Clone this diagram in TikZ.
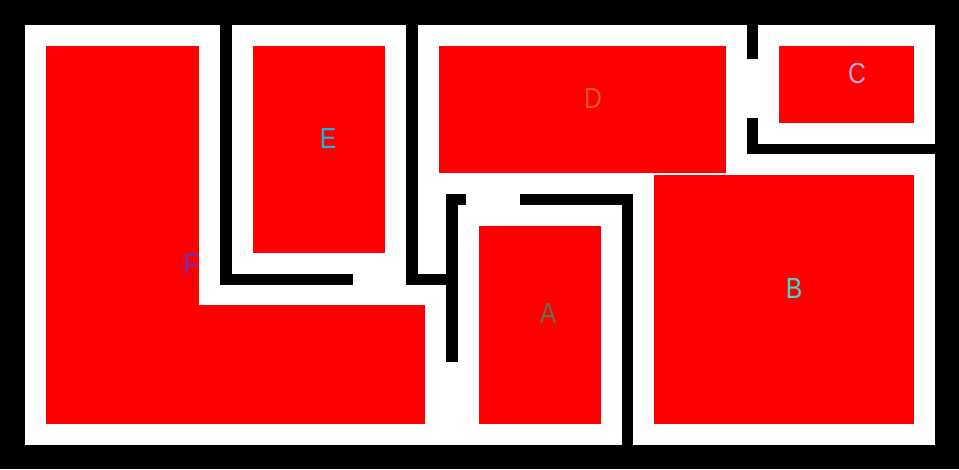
\documentclass[tikz,border=0pt]{standalone}
\usepackage{fontspec}
\setmainfont{Liberation Sans}
\usepackage{xcolor}
\usepackage{tikz}

\definecolor{tagA}{RGB}{105,110,80}
\definecolor{tagB}{RGB}{70,215,200}
\definecolor{tagC}{RGB}{180,170,220}
\definecolor{tagD}{RGB}{230,90,30}
\definecolor{tagE}{RGB}{20,185,225}
\definecolor{tagF}{RGB}{100,50,200}

\begin{document}
\begin{tikzpicture}[
  x=1pt, y=-1pt,
  wall/.style={fill=black},
  floor/.style={fill=white},
  room/.style={fill=red},
  tag/.style={font=\fontsize{29}{29}\selectfont, inner sep=0pt, xscale=0.85},
]
\useasboundingbox (0,0) rectangle (959,469);

% outline
\fill[wall] (0,0) rectangle (959,469);
\fill[floor] (25,25) rectangle (935,445);

% rooms
\fill[room] (46,46) rectangle (199,424);
\fill[room] (199,305) rectangle (425,424);
\fill[room] (253,46) rectangle (385,253);
\fill[room] (439,46) rectangle (726,173);
\fill[room] (779,46) rectangle (914,123);
\fill[room] (654,175) rectangle (914,424);
\fill[room] (479,226) rectangle (601,424);

% inner walls
\fill[wall] (220,25) rectangle (232,285);
\fill[wall] (220,274) rectangle (353,285);
\fill[wall] (406,25) rectangle (418,285);
\fill[wall] (406,274) rectangle (458,285);
\fill[wall] (446,194) rectangle (458,362);
\fill[wall] (446,194) rectangle (466,205);
\fill[wall] (520,194) rectangle (633,205);
\fill[wall] (622,194) rectangle (633,445);
\fill[wall] (747,25) rectangle (758,59);
\fill[wall] (747,118) rectangle (758,154);
\fill[wall] (747,144) rectangle (935,154);

% labels
\node[tag, text=tagA] (labA) at (548,314) {A};
\node[tag, text=tagB] (labB) at (794,289) {B};
\node[tag, text=tagC] (labC) at (857,74) {C};
\node[tag, text=tagD] (labD) at (593,99) {D};
\node[tag, text=tagE] (labE) at (328,139) {E};
\node[tag, text=tagF] (labF) at (191,265) {F};

\end{tikzpicture}
\end{document}
